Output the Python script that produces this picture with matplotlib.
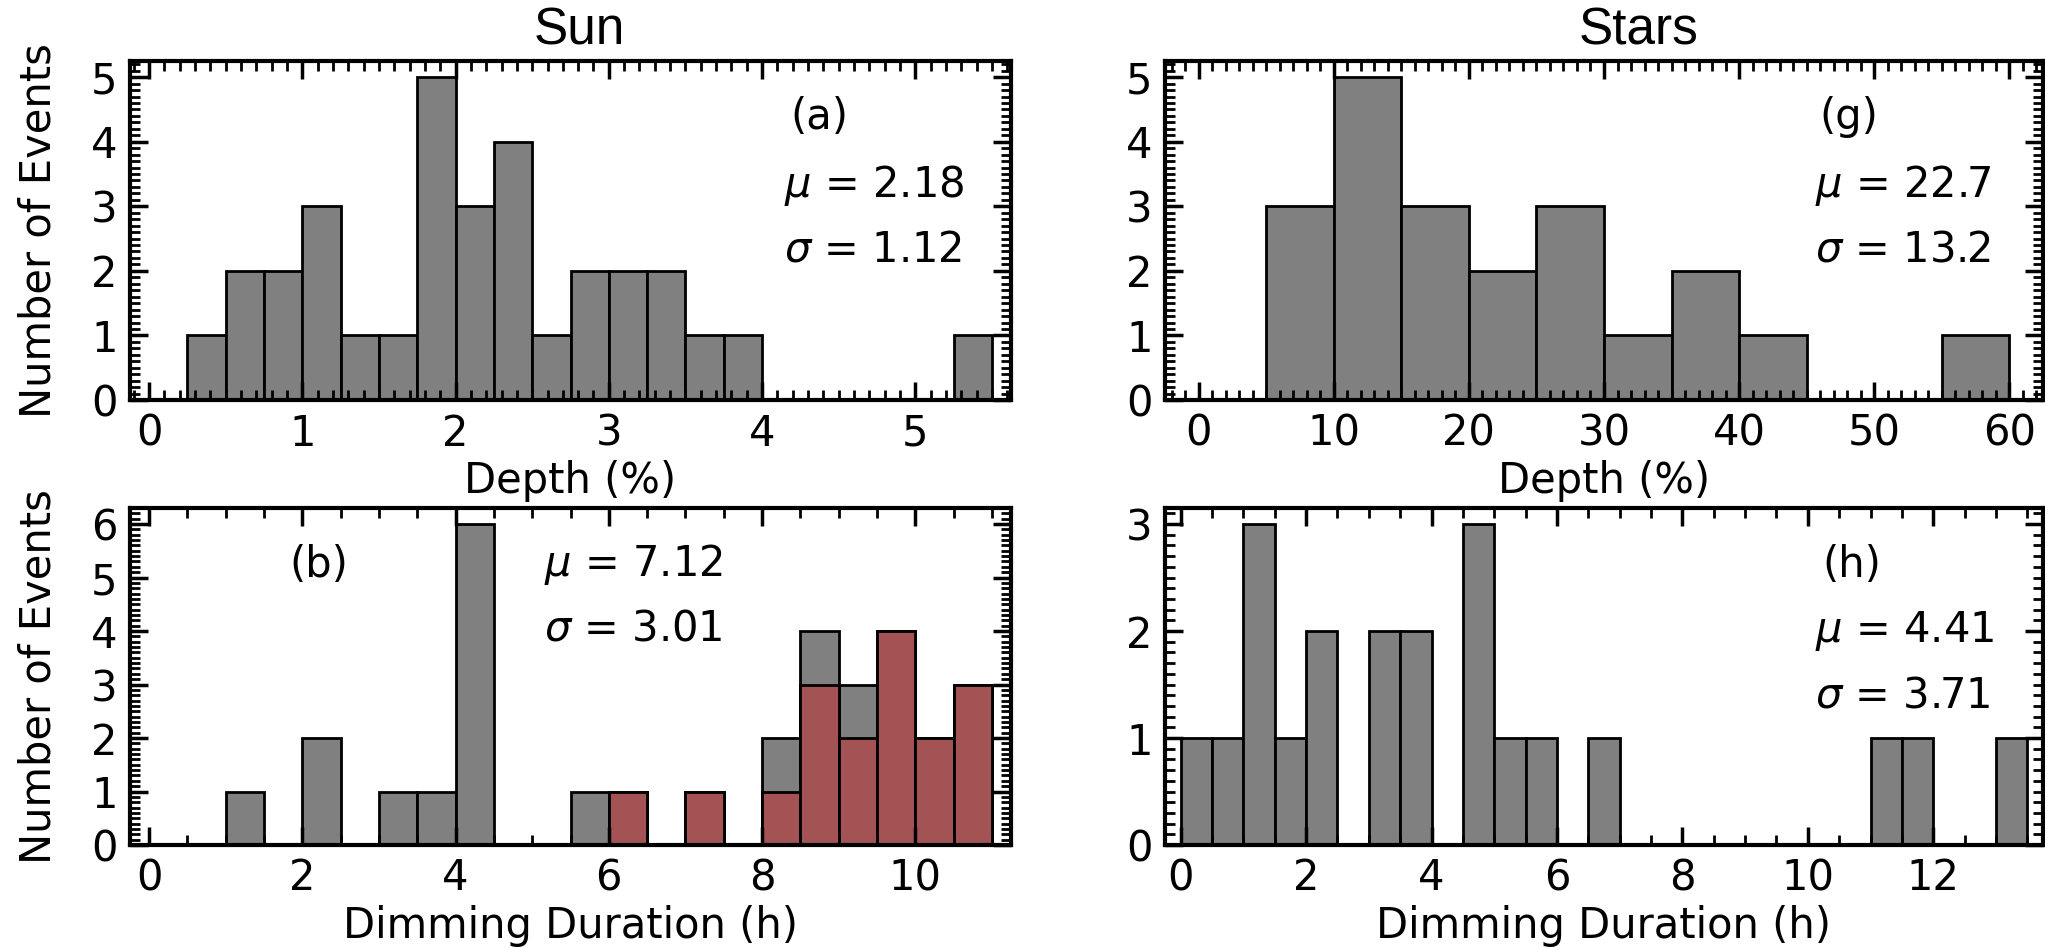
import numpy as np
import matplotlib
matplotlib.use('Agg')
import matplotlib.pyplot as plt
from matplotlib.ticker import MultipleLocator

plt.rcParams['font.family'] = 'DejaVu Sans'
plt.rcParams['mathtext.fontset'] = 'dejavusans'

# Sun: dimming depth (%), bins of 0.25
sun_depth_edges = np.arange(0, 5.51, 0.25)
sun_depth_counts = [0, 1, 2, 2, 3, 1, 1, 5, 3, 4, 1, 2, 2, 2, 1, 1,
                    0, 0, 0, 0, 0, 1]

# Sun: dimming duration (h), bins of 0.5 (all events / red subset)
sun_dur_edges = np.arange(0, 11.01, 0.5)
sun_dur_counts = [0, 0, 1, 0, 2, 0, 1, 1, 6, 0, 0, 1, 1, 0, 1, 0,
                  2, 4, 3, 4, 2, 3]
sun_dur_red = [0, 0, 0, 0, 0, 0, 0, 0, 0, 0, 0, 0, 1, 0, 1, 0,
               1, 3, 2, 4, 2, 3]

# Stars: dimming depth (%), bins of 5
star_depth_edges = np.arange(0, 60.1, 5)
star_depth_counts = [0, 3, 5, 3, 2, 3, 1, 2, 1, 0, 0, 1]

# Stars: dimming duration (h), bins of 0.5
star_dur_edges = np.arange(0, 13.51, 0.5)
star_dur_counts = [1, 1, 3, 1, 2, 0, 2, 2, 0, 3, 1, 1, 0, 1,
                   0, 0, 0, 0, 0, 0, 0, 0, 1, 1, 0, 0, 1]

stats = {
    'a': ('2.18', '1.12'),
    'g': ('22.7', '13.2'),
    'b': ('7.12', '3.01'),
    'h': ('4.41', '3.71'),
}

FS = 30
W, H = 2045, 948

fig = plt.figure(figsize=(W / 100, H / 100), dpi=100)


def add_axes(x0, y0, x1, y1):
    # pixel box -> figure fraction
    return fig.add_axes([x0 / W, 1 - y1 / H, (x1 - x0) / W, (y1 - y0) / H])


def style(ax, xmaj, xmin, ymin):
    ax.xaxis.set_major_locator(MultipleLocator(xmaj))
    ax.xaxis.set_minor_locator(MultipleLocator(xmin))
    ax.yaxis.set_major_locator(MultipleLocator(1))
    ax.yaxis.set_minor_locator(MultipleLocator(ymin))
    ax.tick_params(which='both', direction='in', top=True, right=True,
                   labelsize=FS, pad=9)
    ax.tick_params(which='major', length=13, width=2.5)
    ax.tick_params(which='minor', length=7, width=2)
    for s in ax.spines.values():
        s.set_linewidth(3)


def draw(ax, edges, counts, color='gray'):
    ax.hist(edges[:-1], bins=edges, weights=counts, color=color,
            edgecolor='black', linewidth=2)


def annotate(ax, tag, tag_xy, stat, stat_xy, step=0.19):
    ax.text(tag_xy[0], tag_xy[1], tag, transform=ax.transAxes, fontsize=FS,
            ha='center', va='center')
    ax.text(stat_xy[0], stat_xy[1], r'$\mu$ = ' + stat[0],
            transform=ax.transAxes, fontsize=FS, ha='left', va='center')
    ax.text(stat_xy[0], stat_xy[1] - step, r'$\sigma$ = ' + stat[1],
            transform=ax.transAxes, fontsize=FS, ha='left', va='center')


ax_a = add_axes(130, 61, 1011, 400)
ax_g = add_axes(1165, 61, 2043, 400)
ax_b = add_axes(130, 508, 1011, 845)
ax_h = add_axes(1165, 508, 2043, 845)

draw(ax_a, sun_depth_edges, sun_depth_counts)
ax_a.set_xlim(-0.125, 5.625)
ax_a.set_ylim(0, 5.25)
style(ax_a, 1, 0.1, 0.1)
ax_a.set_xlabel('Depth (%)', fontsize=FS)

draw(ax_g, star_depth_edges, star_depth_counts)
ax_g.set_xlim(-2.5, 62.5)
ax_g.set_ylim(0, 5.25)
style(ax_g, 10, 1, 0.1)
ax_g.set_xlabel('Depth (%)', fontsize=FS)

draw(ax_b, sun_dur_edges, sun_dur_counts)
draw(ax_b, sun_dur_edges, sun_dur_red, color='#a35353')
ax_b.set_xlim(-0.25, 11.25)
ax_b.set_ylim(0, 6.3)
style(ax_b, 2, 0.5, 0.1)
ax_b.set_xlabel('Dimming Duration (h)', fontsize=FS)

draw(ax_h, star_dur_edges, star_dur_counts)
ax_h.set_xlim(-0.25, 13.75)
ax_h.set_ylim(0, 3.15)
style(ax_h, 2, 0.5, 0.1)
ax_h.set_xlabel('Dimming Duration (h)', fontsize=FS)

for ax in (ax_a, ax_b):
    ax.set_ylabel('Number of Events', fontsize=FS)
    ax.yaxis.set_label_coords(-0.08, 0.5)

# panel tags and statistics
annotate(ax_a, '(a)', (0.782, 0.836), stats['a'], (0.742, 0.634))
annotate(ax_g, '(g)', (0.779, 0.836), stats['g'], (0.740, 0.634))
annotate(ax_b, '(b)', (0.2145, 0.83), stats['b'], (0.470, 0.833))
annotate(ax_h, '(h)', (0.782, 0.832), stats['h'], (0.740, 0.635))

fig.text(579 / W, 1 - 31 / H, 'Sun', fontsize=37, family='Liberation Sans',
         ha='center', va='center')
fig.text(1639 / W, 1 - 31 / H, 'Stars', fontsize=37, family='Liberation Sans',
         ha='center', va='center')

fig.savefig('out.png', dpi=100)
